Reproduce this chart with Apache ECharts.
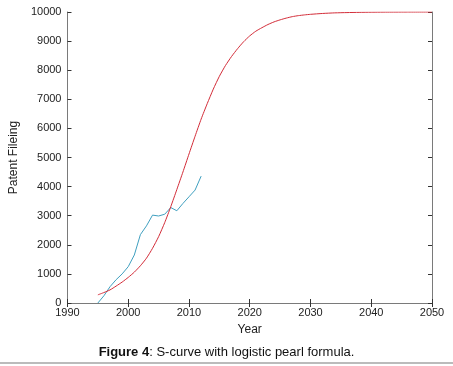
<!DOCTYPE html>
<html>
<head>
<meta charset="utf-8">
<script src="https://cdn.jsdelivr.net/npm/echarts@6/dist/echarts.min.js"></script>
<style>
  html, body { margin: 0; padding: 0; background: #fff; }
  #chart { width: 453px; height: 366px; }
</style>
</head>
<body>
<div id="chart"></div>
<script>
// observed patent filings
const actualYears = [1995, 1996, 1997, 1998, 1999, 2000, 2001, 2002, 2003, 2004, 2005, 2006, 2007, 2008, 2009, 2010, 2011, 2012];
const actualValues = [0, 250, 560, 800, 1000, 1250, 1650, 2350, 2650, 3020, 2990, 3050, 3280, 3170, 3420, 3650, 3880, 4360];

// fitted logistic (pearl) curve
const fitYears = [1995, 1996, 1997, 1998, 1999, 2000, 2001, 2002, 2003, 2004, 2005, 2006, 2007, 2008, 2009,
  2010, 2011, 2012, 2013, 2014, 2015, 2016, 2017, 2018, 2019, 2020, 2021, 2022, 2023, 2024,
  2025, 2026, 2027, 2028, 2029, 2030, 2032, 2034, 2036, 2038, 2040, 2043, 2046, 2050];
const fitValues = [280, 360, 450, 580, 720, 880, 1060, 1280, 1540, 1880, 2280, 2760, 3310, 3900, 4500,
  5120, 5730, 6320, 6850, 7350, 7790, 8160, 8470, 8740, 8980, 9180, 9340, 9460, 9570, 9660,
  9730, 9790, 9840, 9875, 9900, 9920, 9950, 9970, 9980, 9988, 9993, 9997, 9999, 10000];

const xTicks = [1990, 2000, 2010, 2020, 2030, 2040, 2050];
const yTicks = [0, 1000, 2000, 3000, 4000, 5000, 6000, 7000, 8000, 9000, 10000];

const chart = echarts.init(document.getElementById('chart'));

const boxLine = { show: true, lineStyle: { color: '#7a7a7a', width: 1 } };
const tickIn = { show: true, inside: true, length: 4, lineStyle: { color: '#333' } };
const plain = v => String(v);

const option = {
  animation: false,
  textStyle: { fontFamily: 'Liberation Sans, Arial, sans-serif' },
  grid: { left: 60, right: 21, top: 12, bottom: 63 },
  title: {
    text: '{b|Figure 4}: S-curve with logistic pearl formula.',
    left: 'center',
    top: 341,
    textStyle: {
      fontSize: 13,
      fontWeight: 'normal',
      color: '#111',
      rich: { b: { fontSize: 13, fontWeight: 'bold', color: '#111' } }
    }
  },
  graphic: [{
    type: 'line',
    shape: { x1: 0, y1: 363, x2: 453, y2: 363 },
    style: { stroke: '#bbb', lineWidth: 2 }
  }],
  xAxis: [{
    type: 'value',
    min: xTicks[0],
    max: xTicks[xTicks.length - 1],
    interval: 10,
    name: 'Year',
    nameLocation: 'middle',
    nameGap: 21,
    nameTextStyle: { fontSize: 12, color: '#222' },
    axisLine: boxLine,
    axisTick: tickIn,
    axisLabel: { fontSize: 11, color: '#222', margin: 4, formatter: plain },
    splitLine: { show: false }
  }, {
    type: 'value',
    position: 'top',
    min: xTicks[0],
    max: xTicks[xTicks.length - 1],
    interval: 10,
    axisLine: boxLine,
    axisTick: tickIn,
    axisLabel: { show: false },
    splitLine: { show: false }
  }],
  yAxis: [{
    type: 'value',
    min: yTicks[0],
    max: yTicks[yTicks.length - 1],
    interval: 1000,
    name: 'Patent Fileing',
    nameLocation: 'middle',
    nameGap: 42,
    nameTextStyle: { fontSize: 12, color: '#222' },
    axisLine: boxLine,
    axisTick: tickIn,
    axisLabel: { fontSize: 11, color: '#222', margin: 6, formatter: plain },
    splitLine: { show: false }
  }, {
    type: 'value',
    position: 'right',
    min: yTicks[0],
    max: yTicks[yTicks.length - 1],
    interval: 1000,
    axisLine: boxLine,
    axisTick: tickIn,
    axisLabel: { show: false },
    splitLine: { show: false }
  }],
  series: [{
    name: 'Actual',
    type: 'line',
    data: actualYears.map((y, i) => [y, actualValues[i]]),
    showSymbol: false,
    lineStyle: { color: '#3f9fbf', width: 1 },
    itemStyle: { color: '#3f9fbf' }
  }, {
    name: 'Logistic',
    type: 'line',
    smooth: 0.2,
    data: fitYears.map((y, i) => [y, fitValues[i]]),
    showSymbol: false,
    lineStyle: { color: '#d22c38', width: 1 },
    itemStyle: { color: '#d22c38' }
  }]
};

chart.setOption(option);
</script>
</body>
</html>
